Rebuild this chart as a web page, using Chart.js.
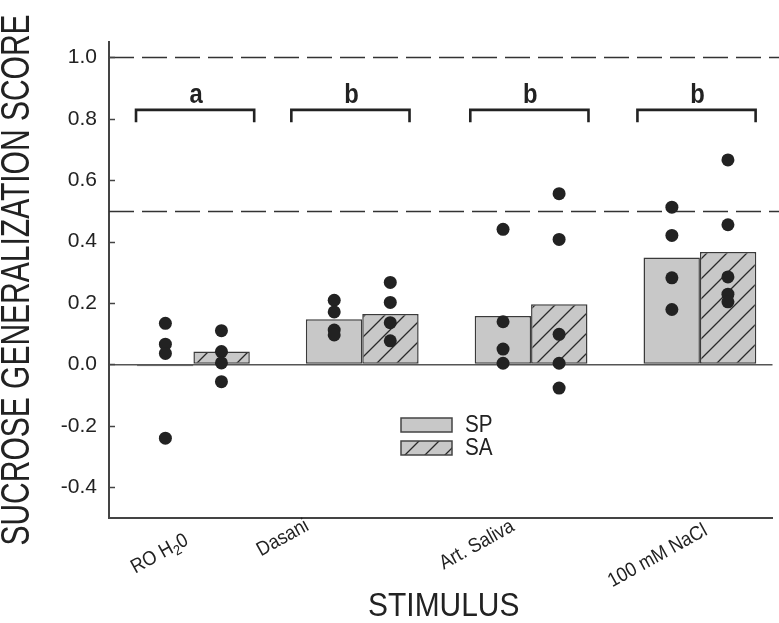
<!DOCTYPE html>
<html><head><meta charset="utf-8">
<script src="https://cdn.jsdelivr.net/npm/chart.js@4.4.1/dist/chart.umd.min.js"></script>
<style>html,body{margin:0;padding:0;background:#fff;overflow:hidden}</style>
</head><body>
<canvas id="c" width="779" height="623"></canvas>
<script>
// ---- data ----
const categories = ['RO H\u20820', 'Dasani', 'Art. Saliva', '100 mM NaCl'];
const seriesNames = ['SP', 'SA'];
const spMeans = [-0.006, 0.147, 0.158, 0.348];
const saMeans = [0.042, 0.164, 0.196, 0.366];
const spPoints = [[0.134, 0.066, 0.036, -0.24], [0.209, 0.171, 0.112, 0.096], [0.44, 0.139, 0.05, 0.004], [0.512, 0.42, 0.282, 0.179]];
const saPoints = [[0.11, 0.042, 0.005, -0.056], [0.267, 0.202, 0.136, 0.077], [0.556, 0.407, 0.098, 0.004, -0.077], [0.666, 0.455, 0.285, 0.229, 0.204]];
const yTicks = [-0.4, -0.2, 0.0, 0.2, 0.4, 0.6, 0.8, 1.0];
const refLines = [1.0, 0.5];
const groupLetters = ['a', 'b', 'b', 'b'];
const bracketCenters = [1.01, 1.93, 2.99, 3.98];
const yTitle = 'SUCROSE GENERALIZATION SCORE';
const xTitle = 'STIMULUS';

// ---- layout / style constants ----
const FONT = '"Liberation Sans", Arial, sans-serif';
const DOT_OFFSET = 0.166;
const labelPos = [[0.80, 36], [1.53, 20], [2.68, 27], [3.75, 38]];
const BRACKET_HALF = 0.35, BRACKET_Y = 0.829, BRACKET_DROP = 0.04, LETTER_Y = 0.852;

function hatchPattern() {
  const s = 20, c = document.createElement('canvas');
  c.width = s; c.height = s;
  const g = c.getContext('2d');
  g.fillStyle = '#c8c8c8'; g.fillRect(0, 0, s, s);
  g.strokeStyle = '#2a2a2a'; g.lineWidth = 1.3;
  g.beginPath();
  g.moveTo(-2, s + 2); g.lineTo(s + 2, -2);
  g.moveTo(-2, 2); g.lineTo(2, -2);
  g.moveTo(s - 2, s + 2); g.lineTo(s + 2, s - 2);
  g.stroke();
  return c.getContext('2d').createPattern(c, 'repeat');
}
const hatch = hatchPattern();

function drawText(ctx, s, x, y, o) {
  ctx.save();
  ctx.translate(x, y);
  if (o.rot) ctx.rotate(o.rot);
  ctx.scale(o.sx || 1, o.sy || 1);
  ctx.font = (o.bold ? 'bold ' : '') + o.size + 'px ' + FONT;
  ctx.fillStyle = o.color || '#222';
  ctx.textAlign = o.align || 'center';
  ctx.textBaseline = o.base || 'middle';
  ctx.fillText(s, 0, 0);
  ctx.restore();
}

function drawCategory(ctx, s, cx, cy, rot, size, sx) {
  ctx.save();
  ctx.translate(cx, cy);
  ctx.rotate(rot);
  ctx.scale(sx, 1);
  ctx.fillStyle = '#222';
  ctx.textBaseline = 'middle';
  ctx.textAlign = 'left';
  const parts = s.split('\u2082');
  const big = size + 'px ' + FONT, small = Math.round(size * 0.68) + 'px ' + FONT;
  let w = 0;
  parts.forEach((p, i) => { ctx.font = big; w += ctx.measureText(p).width; if (i < parts.length - 1) { ctx.font = small; w += ctx.measureText('2').width; } });
  let x = -w / 2;
  parts.forEach((p, i) => {
    ctx.font = big; ctx.fillText(p, x, 0); x += ctx.measureText(p).width;
    if (i < parts.length - 1) { ctx.font = small; ctx.fillText('2', x, size * 0.3); x += ctx.measureText('2').width; }
  });
  ctx.restore();
}

const decor = {
  id: 'decor',
  beforeDatasetsDraw(chart) {
    const { ctx, chartArea: a, scales: { y } } = chart;
    ctx.save();
    ctx.strokeStyle = '#333'; ctx.lineWidth = 1.5; ctx.setLineDash([25, 8]);
    refLines.forEach(v => {
      const py = Math.round(y.getPixelForValue(v)) + 0.5;
      ctx.beginPath(); ctx.moveTo(a.left, py); ctx.lineTo(chart.width, py); ctx.stroke();
    });
    ctx.restore();
  },
  afterDraw(chart) {
    const { ctx, chartArea: a, scales: { x, y } } = chart;
    ctx.save();
    // inward ticks
    ctx.strokeStyle = '#444'; ctx.lineWidth = 1.5;
    yTicks.forEach(v => {
      const py = Math.round(y.getPixelForValue(v)) + 0.5;
      ctx.beginPath(); ctx.moveTo(a.left, py); ctx.lineTo(a.left + 6, py); ctx.stroke();
    });
    // brackets
    ctx.strokeStyle = '#222'; ctx.lineWidth = 2.6; ctx.lineJoin = 'miter';
    bracketCenters.forEach((c, i) => {
      const l = x.getPixelForValue(c - BRACKET_HALF), r = x.getPixelForValue(c + BRACKET_HALF);
      const t = y.getPixelForValue(BRACKET_Y), b = y.getPixelForValue(BRACKET_Y - BRACKET_DROP);
      ctx.beginPath(); ctx.moveTo(l, b); ctx.lineTo(l, t); ctx.lineTo(r, t); ctx.lineTo(r, b); ctx.stroke();
      drawText(ctx, groupLetters[i], x.getPixelForValue(c) + 1, y.getPixelForValue(LETTER_Y), { size: 28, bold: true, sx: 0.85, base: 'alphabetic' });
    });
    // legend
    const lx = a.left + 292;
    chart.data.datasets.filter(d => d.type === 'bar').forEach((d, i) => {
      const ty = 418 + i * 23;
      ctx.fillStyle = d.backgroundColor; ctx.fillRect(lx, ty, 51, 14);
      ctx.strokeStyle = '#444'; ctx.lineWidth = 1.5; ctx.strokeRect(lx, ty, 51, 14);
      drawText(ctx, d.label, lx + 64, ty + 8, { size: 23, sx: 0.9, align: 'left' });
    });
    // category labels
    categories.forEach((c, i) => {
      drawCategory(ctx, c, x.getPixelForValue(labelPos[i][0]), a.bottom + labelPos[i][1], -29 * Math.PI / 180, 20, 0.9);
    });
    // axis titles
    drawText(ctx, xTitle, (a.left + a.right) / 2 + 3, 607, { size: 34, sx: 0.88 });
    drawText(ctx, yTitle, 18, 280, { size: 40, sx: 0.75, rot: -Math.PI / 2 });
    ctx.restore();
  }
};

const bars = [spMeans, saMeans].map((m, k) => ({
  type: 'bar', label: seriesNames[k], order: 2,
  data: m.map((v, i) => ({ x: i + 1, y: v })),
  backgroundColor: k === 0 ? '#c8c8c8' : hatch,
  borderColor: '#3a3a3a', borderWidth: 1.5, borderSkipped: false,
  barPercentage: 1.0, categoryPercentage: 0.668
}));
const dots = [spPoints, saPoints].map((pts, k) => ({
  type: 'scatter', label: seriesNames[k] + ' rats', order: 1,
  data: pts.flatMap((arr, i) => arr.map(v => ({ x: i + 1 + (k === 0 ? -DOT_OFFSET : DOT_OFFSET), y: v }))),
  backgroundColor: '#222', borderWidth: 0, pointRadius: 6.5, pointHoverRadius: 6.5
}));

new Chart(document.getElementById('c'), {
  type: 'bar',
  data: { datasets: [...bars, ...dots] },
  options: {
    responsive: false, animation: false,
    layout: { padding: { top: 42, right: 2, left: 0, bottom: 0 } },
    plugins: { legend: { display: false }, tooltip: { enabled: false } },
    scales: {
      x: {
        type: 'linear', min: 0.5, max: 4.43, offset: false,
        afterBuildTicks: s => { s.ticks = categories.map((c, i) => ({ value: i + 1 })); },
        grid: { display: false, drawTicks: false },
        border: { display: true, color: '#444', width: 2 },
        ticks: { display: false },
        afterFit: s => { s.height = 105; }
      },
      y: {
        min: -0.5, max: 1.05,
        afterBuildTicks: s => { s.ticks = yTicks.map(v => ({ value: v })); },
        ticks: { callback: v => v.toFixed(1), font: { family: FONT, size: 21 }, color: '#222', padding: 12 },
        grid: { drawTicks: false, color: c => (c.tick && c.tick.value === 0 ? '#555' : 'rgba(0,0,0,0)'), lineWidth: 1.5 },
        border: { display: true, color: '#444', width: 2 },
        afterFit: s => { s.width = 109; }
      }
    }
  },
  plugins: [decor]
});
</script>
</body></html>
